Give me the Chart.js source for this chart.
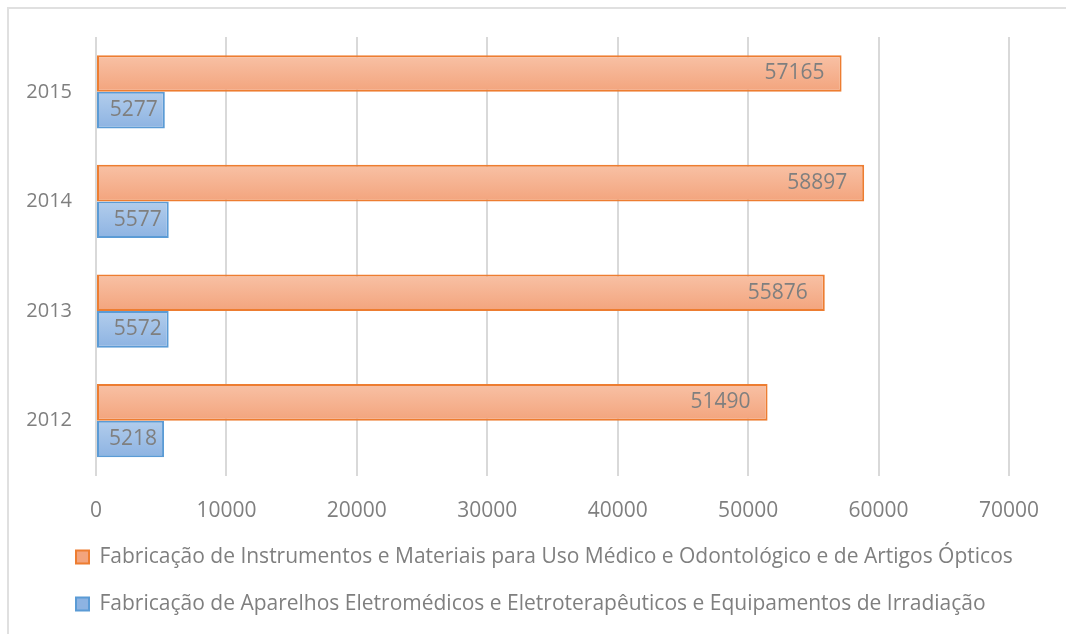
<!DOCTYPE html>
<html>
<head>
<meta charset="utf-8">
<script src="https://cdn.jsdelivr.net/npm/chart.js@4.4.1/dist/chart.umd.min.js"></script>
<style>
  html, body { margin: 0; padding: 0; background: #ffffff; }
  #wrap { position: relative; width: 1066px; height: 634px; overflow: hidden; }
  #frame { position: absolute; left: 7px; top: 7px; right: -10px; bottom: -10px;
           border-left: 2px solid #e0e0e0; border-top: 2px solid #e0e0e0; }
  canvas { position: absolute; left: 0; top: 0; }
</style>
</head>
<body>
<div id="wrap">
  <div id="frame"></div>
  <canvas id="c" width="1066" height="634"></canvas>
</div>
<script>
const categories = ['2015', '2014', '2013', '2012'];
const seriesNames = [
  'Fabricação de Instrumentos e Materiais para Uso Médico e Odontológico e de Artigos Ópticos',
  'Fabricação de Aparelhos Eletromédicos e Eletroterapêuticos e Equipamentos de Irradiação'
];
const instrumentos = [57165, 58897, 55876, 51490];
const aparelhos = [5277, 5577, 5572, 5218];
const xTicks = [0, 10000, 20000, 30000, 40000, 50000, 60000, 70000];

const FONT = '"Open Sans"';
const GRAY = '#7f7f7f';
const CAT_PCT = 0.668;

function gradFill(top, bottom, solid) {
  return function (ctx) {
    const chart = ctx.chart;
    const y = chart.scales && chart.scales.y;
    if (ctx.type !== 'data' || !y || !chart.chartArea) return solid;
    const center = y.getPixelForValue(ctx.dataIndex);
    const band = Math.abs(y.getPixelForValue(1) - y.getPixelForValue(0));
    const h = band * CAT_PCT / 2;
    const y0 = ctx.datasetIndex === 0 ? center - h : center;
    const g = chart.ctx.createLinearGradient(0, y0, 0, y0 + h);
    g.addColorStop(0, top);
    g.addColorStop(1, bottom);
    return g;
  };
}

const valueLabels = {
  id: 'valueLabels',
  afterDatasetsDraw(chart) {
    const c = chart.ctx;
    c.save();
    c.font = '21px ' + FONT;
    c.fillStyle = GRAY;
    c.textAlign = 'right';
    c.textBaseline = 'middle';
    chart.data.datasets.forEach((ds, di) => {
      const meta = chart.getDatasetMeta(di);
      const off = di === 0 ? 17 : 7;
      meta.data.forEach((el, i) => {
        c.fillText(String(ds.data[i]), el.x - off, el.y);
      });
    });
    c.restore();
  }
};

const legendShift = {
  id: 'legendShift',
  afterLayout(chart) {
    const lg = chart.legend;
    if (lg) { lg.left += 43; lg.right += 43; }
  }
};

new Chart(document.getElementById('c'), {
  type: 'bar',
  data: {
    labels: categories,
    datasets: [
      {
        label: seriesNames[0],
        data: instrumentos,
        backgroundColor: gradFill('#f8c1a5', '#f3a47d', '#f4b183'),
        borderColor: '#ed7d31',
        borderWidth: 2,
        borderSkipped: false
      },
      {
        label: seriesNames[1],
        data: aparelhos,
        backgroundColor: gradFill('#b2cdec', '#8db3e2', '#9dc3e6'),
        borderColor: '#5b9bd5',
        borderWidth: 2,
        borderSkipped: false
      }
    ]
  },
  options: {
    indexAxis: 'y',
    responsive: false,
    animation: false,
    datasets: { bar: { categoryPercentage: CAT_PCT, barPercentage: 1 } },
    layout: { padding: { left: 7, right: 57, top: 37, bottom: 9.5 } },
    scales: {
      x: {
        min: 0, max: 70000,
        afterBuildTicks(scale) { scale.ticks = xTicks.map(v => ({ value: v })); },
        afterFit(scale) { scale.height = 45; },
        grid: { color: '#d9d9d9', lineWidth: 2, drawTicks: false },
        border: { display: false },
        ticks: { color: GRAY, font: { family: FONT, size: 21 }, padding: 23, maxRotation: 0,
                 callback: (v) => String(v) }
      },
      y: {
        afterFit(scale) { scale.width = 89; },
        grid: { display: false },
        border: { display: false },
        ticks: { color: GRAY, font: { family: FONT, size: 20 }, padding: 16 }
      }
    },
    plugins: {
      legend: {
        position: 'bottom',
        align: 'start',
        labels: {
          color: GRAY,
          font: { family: FONT, size: 21 },
          boxWidth: 13,
          boxHeight: 13,
          padding: 26
        }
      },
      tooltip: { enabled: false }
    }
  },
  plugins: [valueLabels, legendShift]
});
</script>
</body>
</html>
